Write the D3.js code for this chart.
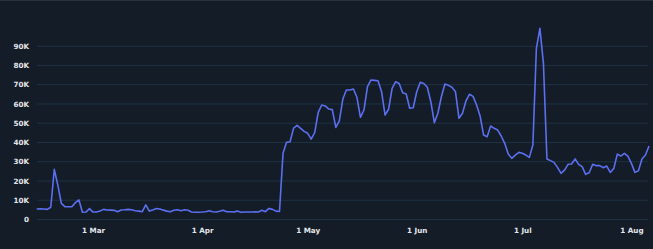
<!DOCTYPE html>
<html>
<head>
<meta charset="utf-8">
<script src="https://cdn.jsdelivr.net/npm/d3@7"></script>
<style>
  html, body { margin: 0; padding: 0; background: #141c27; }
  svg { display: block; }
  .tick-label { font-family: "DejaVu Sans", Verdana, sans-serif; font-weight: bold; font-size: 7.2px; fill: #e3e6ea; }
</style>
</head>
<body>
<svg id="chart"></svg>
<script>
// daily values (thousands), starting 13 Feb
const startDate = new Date(2021, 1, 13)
const dailyK = [
  5.2, 5.3, 5.2, 5.0, 6.1, 25.8, 17.6, 8.1, 6.4, 6.4,
  6.4, 8.5, 9.9, 3.5, 3.6, 5.4, 3.6, 3.6, 4.2, 5.0,
  4.7, 4.6, 4.5, 3.8, 4.7, 4.8, 5.0, 4.8, 4.3, 4.1,
  3.8, 7.3, 4.1, 4.7, 5.4, 5.2, 4.6, 4.1, 3.8, 4.5,
  4.8, 4.3, 4.8, 4.5, 3.6, 3.5, 3.5, 3.6, 3.8, 4.3,
  3.8, 3.6, 4.0, 4.5, 3.8, 3.8, 3.6, 4.1, 3.5, 3.6,
  3.6, 3.6, 3.8, 3.6, 4.5, 3.8, 5.5, 5.0, 4.1, 3.9,
  34.1, 39.8, 40.1, 47.2, 48.6, 47.1, 45.5, 44.5, 41.5, 44.8,
  55.4, 59.2, 58.7, 57.1, 56.8, 47.6, 51.0, 62.3, 67.0, 67.0,
  67.5, 63.2, 52.8, 56.6, 68.7, 72.2, 72.0, 71.8, 66.1, 54.0,
  57.0, 67.9, 71.3, 70.4, 65.6, 64.9, 57.5, 57.8, 66.1, 71.0,
  70.4, 68.4, 60.9, 50.0, 54.9, 63.5, 70.1, 69.4, 68.4, 66.1,
  52.3, 54.9, 61.4, 64.8, 63.7, 59.2, 53.5, 43.6, 42.7, 48.3,
  47.1, 46.2, 43.1, 39.3, 33.7, 31.5, 33.2, 34.6, 34.1, 33.2,
  32.0, 38.4, 88.6, 99.0, 80.8, 31.2, 30.3, 29.4, 26.8, 23.7,
  25.4, 28.4, 28.6, 31.2, 28.4, 27.2, 23.2, 24.0, 28.4, 27.7,
  27.7, 26.6, 27.5, 24.2, 26.3, 33.7, 32.7, 34.1, 32.7, 28.9,
  24.2, 25.1, 31.2, 33.2, 37.9
]

const yTicks = [0, 10000, 20000, 30000, 40000, 50000, 60000, 70000, 80000, 90000]
const xTickDates = [new Date(2021, 2, 1), new Date(2021, 3, 1), new Date(2021, 4, 1),
                    new Date(2021, 5, 1), new Date(2021, 6, 1), new Date(2021, 7, 1)]
const xTickLabels = ["1 Mar", "1 Apr", "1 May", "1 Jun", "1 Jul", "1 Aug"]

const W = 653, H = 249
const data = dailyK.map((v, i) => ({ date: d3.timeDay.offset(startDate, i), value: v * 1000 }))

const svg = d3.select('#chart').attr('width', W).attr('height', H)

// thin top border
svg.append('rect').attr('x', 0).attr('y', 0).attr('width', W).attr('height', 1).attr('fill', '#2b333d')

const x = d3.scaleTime()
  .domain([startDate, data[data.length - 1].date])
  .range([36.7, 649])

const y = d3.scaleLinear()
  .domain([0, 90000])
  .range([219, 45.7])

// grid + y labels
const yAxis = svg.append('g').attr('transform', 'translate(37,0)')
  .call(d3.axisLeft(y).tickValues(yTicks).tickSize(-(W - 37 - 5)).tickPadding(8)
    .tickFormat(d => d === 0 ? '0' : (d / 1000) + 'K'))
yAxis.select('.domain').remove()
yAxis.selectAll('.tick line').attr('stroke', '#1d3345').attr('stroke-width', 1)
yAxis.selectAll('.tick text').attr('class', 'tick-label').attr('dy', '0.36em')

// x labels
const xAxis = svg.append('g').attr('transform', 'translate(0,219)')
  .call(d3.axisBottom(x).tickValues(xTickDates).tickSize(0).tickPadding(9)
    .tickFormat((d, i) => xTickLabels[i]))
xAxis.select('.domain').remove()
xAxis.selectAll('.tick text').attr('class', 'tick-label')

// line
const line = d3.line().x(d => x(d.date)).y(d => y(d.value))
svg.append('path').datum(data)
  .attr('d', line)
  .attr('fill', 'none')
  .attr('stroke', '#5b6ff0')
  .attr('stroke-width', 1.6)
  .attr('stroke-linejoin', 'round')
</script>
</body>
</html>
